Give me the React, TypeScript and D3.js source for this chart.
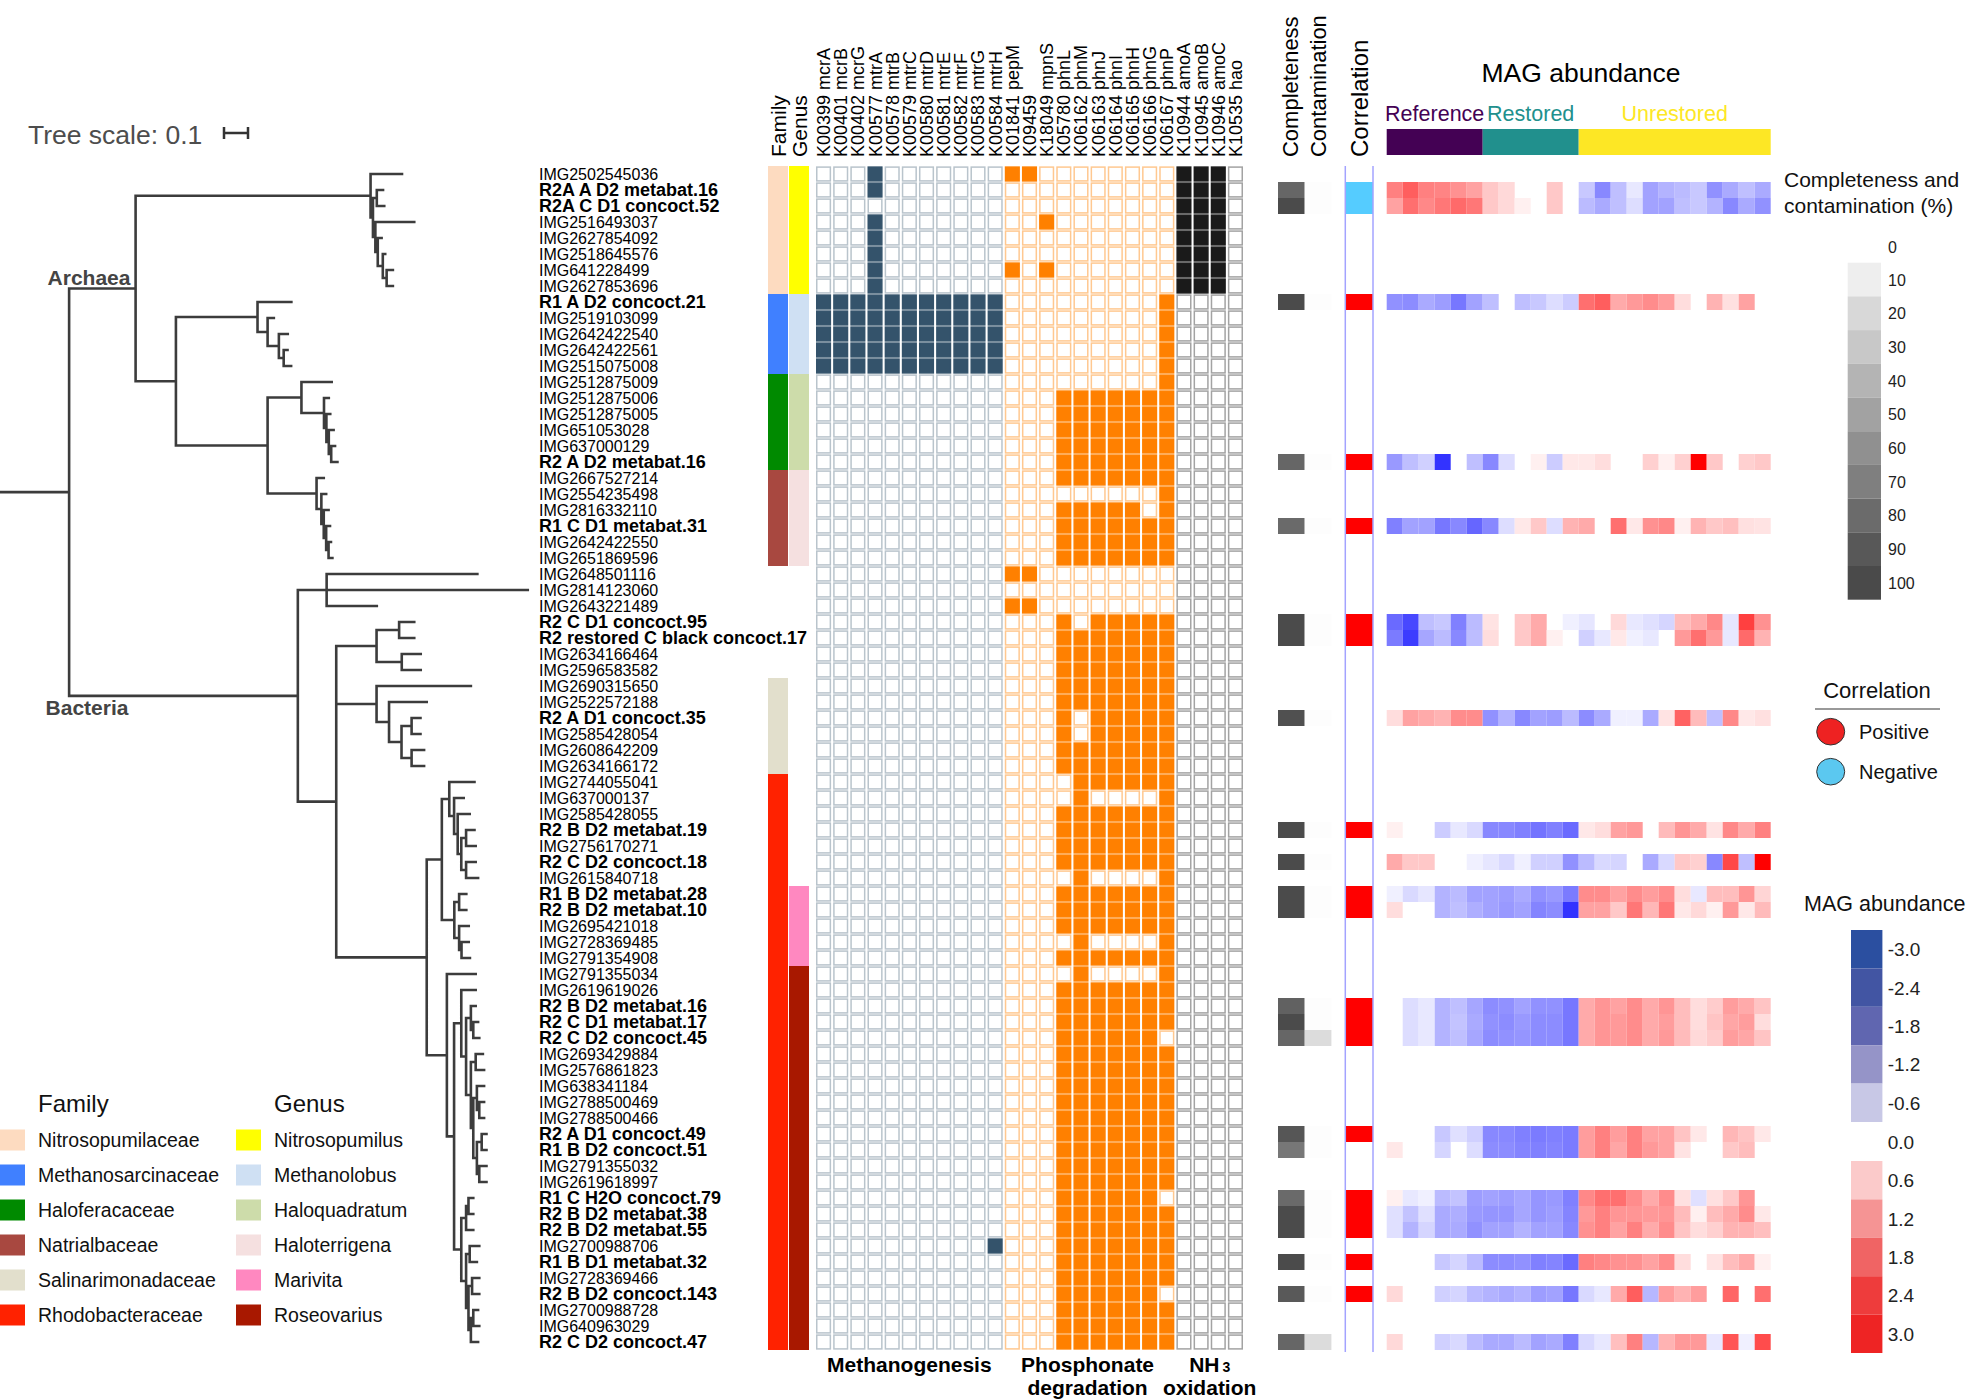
import React from "react";
import * as d3 from "d3";

// ---- data ----
const LEAVES = [
  "IMG2502545036", "R2A A D2 metabat.16", "R2A C D1 concoct.52", "IMG2516493037", "IMG2627854092",
  "IMG2518645576", "IMG641228499", "IMG2627853696", "R1 A D2 concoct.21", "IMG2519103099",
  "IMG2642422540", "IMG2642422561", "IMG2515075008", "IMG2512875009", "IMG2512875006",
  "IMG2512875005", "IMG651053028", "IMG637000129", "R2 A D2 metabat.16", "IMG2667527214",
  "IMG2554235498", "IMG2816332110", "R1 C D1 metabat.31", "IMG2642422550", "IMG2651869596",
  "IMG2648501116", "IMG2814123060", "IMG2643221489", "R2 C D1 concoct.95", "R2 restored C black concoct.17",
  "IMG2634166464", "IMG2596583582", "IMG2690315650", "IMG2522572188", "R2 A D1 concoct.35",
  "IMG2585428054", "IMG2608642209", "IMG2634166172", "IMG2744055041", "IMG637000137",
  "IMG2585428055", "R2 B D2 metabat.19", "IMG2756170271", "R2 C D2 concoct.18", "IMG2615840718",
  "R1 B D2 metabat.28", "R2 B D2 metabat.10", "IMG2695421018", "IMG2728369485", "IMG2791354908",
  "IMG2791355034", "IMG2619619026", "R2 B D2 metabat.16", "R2 C D1 metabat.17", "R2 C D2 concoct.45",
  "IMG2693429884", "IMG2576861823", "IMG638341184", "IMG2788500469", "IMG2788500466",
  "R2 A D1 concoct.49", "R1 B D2 concoct.51", "IMG2791355032", "IMG2619618997", "R1 C H2O concoct.79",
  "R2 B D2 metabat.38", "R2 B D2 metabat.55", "IMG2700988706", "R1 B D1 metabat.32", "IMG2728369466",
  "R2 B D2 concoct.143", "IMG2700988728", "IMG640963029", "R2 C D2 concoct.47",
];

const GENES = [
  "K00399 mcrA", "K00401 mcrB", "K00402 mcrG", "K00577 mtrA", "K00578 mtrB", "K00579 mtrC",
  "K00580 mtrD", "K00581 mtrE", "K00582 mtrF", "K00583 mtrG", "K00584 mtrH",
  "K01841 pepM", "K09459", "K18049 mpnS", "K05780 phnL", "K06162 phnM", "K06163 phnJ",
  "K06164 phnI", "K06165 phnH", "K06166 phnG", "K06167 phnP",
  "K10944 amoA", "K10945 amoB", "K10946 amoC", "K10535 hao",
];
const PATHWAYS = ["Methanogenesis", "Phosphonate degradation", "NH3 oxidation"];
const PATHWAY_OF_GENE = [0,0,0,0,0,0,0,0,0,0,0, 1,1,1,1,1,1,1,1,1,1, 2,2,2,2];

// gene presence, one string per leaf (1 = present), columns in GENES order
const PRESENCE = [
  "00010000000" + "1100000000" + "1110",
  "00010000000" + "0000000000" + "1110",
  "00000000000" + "0000000000" + "1110",
  "00010000000" + "0010000000" + "1110",
  "00010000000" + "0000000000" + "1110",
  "00010000000" + "0000000000" + "1110",
  "00010000000" + "1010000000" + "1110",
  "00010000000" + "0000000000" + "1110",
  "11111111111" + "0000000001" + "0000",
  "11111111111" + "0000000001" + "0000",
  "11111111111" + "0000000001" + "0000",
  "11111111111" + "0000000001" + "0000",
  "11111111111" + "0000000001" + "0000",
  "00000000000" + "0000000001" + "0000",
  "00000000000" + "0001111111" + "0000",
  "00000000000" + "0001111111" + "0000",
  "00000000000" + "0001111111" + "0000",
  "00000000000" + "0001111111" + "0000",
  "00000000000" + "0001111111" + "0000",
  "00000000000" + "0001111111" + "0000",
  "00000000000" + "0000000001" + "0000",
  "00000000000" + "0001111101" + "0000",
  "00000000000" + "0001111111" + "0000",
  "00000000000" + "0001111111" + "0000",
  "00000000000" + "0001111111" + "0000",
  "00000000000" + "1100000000" + "0000",
  "00000000000" + "0000000000" + "0000",
  "00000000000" + "1100000000" + "0000",
  "00000000000" + "0001011111" + "0000",
  "00000000000" + "0001111111" + "0000",
  "00000000000" + "0001111111" + "0000",
  "00000000000" + "0001111111" + "0000",
  "00000000000" + "0001111111" + "0000",
  "00000000000" + "0001111111" + "0000",
  "00000000000" + "0001011111" + "0000",
  "00000000000" + "0001011111" + "0000",
  "00000000000" + "0001111111" + "0000",
  "00000000000" + "0001111111" + "0000",
  "00000000000" + "0000111111" + "0000",
  "00000000000" + "0000100001" + "0000",
  "00000000000" + "0001111111" + "0000",
  "00000000000" + "0001111111" + "0000",
  "00000000000" + "0001111111" + "0000",
  "00000000000" + "0001111111" + "0000",
  "00000000000" + "0000100001" + "0000",
  "00000000000" + "0001111111" + "0000",
  "00000000000" + "0001111111" + "0000",
  "00000000000" + "0001111111" + "0000",
  "00000000000" + "0000100001" + "0000",
  "00000000000" + "0001111111" + "0000",
  "00000000000" + "0000100001" + "0000",
  "00000000000" + "0001111111" + "0000",
  "00000000000" + "0001111111" + "0000",
  "00000000000" + "0001111111" + "0000",
  "00000000000" + "0001111110" + "0000",
  "00000000000" + "0001111111" + "0000",
  "00000000000" + "0001111111" + "0000",
  "00000000000" + "0001111111" + "0000",
  "00000000000" + "0001111111" + "0000",
  "00000000000" + "0001111111" + "0000",
  "00000000000" + "0001111111" + "0000",
  "00000000000" + "0001111111" + "0000",
  "00000000000" + "0001111111" + "0000",
  "00000000000" + "0001111111" + "0000",
  "00000000000" + "0001111110" + "0000",
  "00000000000" + "0001111111" + "0000",
  "00000000000" + "0001111111" + "0000",
  "00000000001" + "0001111111" + "0000",
  "00000000000" + "0001111111" + "0000",
  "00000000000" + "0001111111" + "0000",
  "00000000000" + "0001111110" + "0000",
  "00000000000" + "0001111111" + "0000",
  "00000000000" + "0001111111" + "0000",
  "00000000000" + "0001111111" + "0000",
];

const FAMILY_NAMES = ["Nitrosopumilaceae", "Methanosarcinaceae", "Haloferacaceae", "Natrialbaceae", "Salinarimonadaceae", "Rhodobacteraceae"];
const GENUS_NAMES = ["Nitrosopumilus", "Methanolobus", "Haloquadratum", "Haloterrigena", "Marivita", "Roseovarius"];
// [taxon index, first row, last row]
const FAMILY_SPANS = [[0, 0, 7], [1, 8, 12], [2, 13, 18], [3, 19, 24], [4, 32, 37], [5, 38, 73]];
const GENUS_SPANS = [[0, 0, 7], [1, 8, 12], [2, 13, 18], [3, 19, 24], [4, 45, 49], [5, 50, 73]];

// MAG tracks, in the order the MAGs appear in LEAVES
const COMPLETENESS = [83, 98, 98, 83, 81, 98, 98, 95, 98, 98, 98, 98, 86, 98, 83, 92, 74, 81, 98, 98, 98, 90, 83];
const CONTAMINATION = [1, 1, 1, 1, 1, 1, 1, 1, 1, 1, 1, 1, 1, 1, 19, 1, 1, 1, 1, 1, 1, 1, 19];
const CORRELATION = [-1, -1, 1, 1, 1, 1, 1, 0, 1, 0, 1, 1, 1, 1, 1, 1, 0, 1, 1, 1, 1, 1, 0];

const SAMPLE_GROUPS = ["Reference", "Restored", "Unrestored"];
const SAMPLE_GROUP_SIZES = [6, 6, 12];

const ABUNDANCE: (number | null)[][] = [
  [1.5,1.9,1.5,1.45,1.3,1.1,0.65,0.45,null,null,0.65,null,-0.65,-1.4,-0.75,-0.27,-1.1,-0.9,-0.8,-0.65,-1.3,-1.0,-0.75,-1.0],
  [1.1,1.7,1.4,1.6,1.75,1.6,0.65,0.45,0.18,null,0.65,null,-0.8,-1.0,-0.75,-0.4,-1.1,-1.1,-0.75,-0.65,-0.9,-1.4,-1.0,-1.3],
  [-1.3,-1.35,-1.0,-1.15,-1.6,-1.1,-0.75,null,-0.75,-0.65,-0.4,-0.6,1.7,1.9,1.0,1.2,1.35,1.15,0.4,null,0.9,0.37,1.1,null],
  [-1.2,-0.75,-0.55,-2.4,null,-0.75,-1.4,-0.4,null,0.18,-0.6,0.27,0.27,0.4,null,null,0.55,0.18,0.55,3.0,0.65,null,0.55,0.65],
  [-1.5,-1.1,-1.1,-1.6,-1.4,-1.8,-1.4,-0.4,0.27,0.65,-0.4,0.9,1.0,null,1.7,0.27,1.3,1.4,0.18,0.9,0.65,0.75,0.37,0.33],
  [-1.75,-2.15,-0.75,-0.65,-1.5,-0.8,0.33,null,0.65,1.0,null,-0.18,-0.3,null,0.45,-0.27,-0.37,-0.5,0.8,1.0,1.4,-0.3,2.25,1.3],
  [-1.55,-2.3,-1.05,-0.8,-1.4,-0.78,0.4,null,0.65,1.0,0.18,null,-0.55,-0.27,0.27,-0.18,-0.27,null,1.2,1.7,1.2,-0.27,1.75,0.9],
  [0.4,1.1,1.0,0.9,1.35,1.35,-1.3,-0.9,-1.4,-1.1,-1.15,-0.8,-1.35,-1.0,-0.18,-0.18,-1.0,0.33,1.85,0.8,-0.75,1.4,0.27,0.37],
  [0.18,null,null,-0.6,-0.27,-0.45,-1.4,-1.4,-1.5,-1.65,-1.5,-1.75,0.27,0.4,1.1,1.2,null,0.8,1.25,1.0,0.33,1.4,1.0,1.5],
  [1.0,0.65,0.65,null,null,-0.18,-0.3,-0.45,-0.18,-0.55,-0.55,-1.3,-0.8,-0.45,-0.5,null,-1.0,-0.45,0.65,0.55,-1.4,2.15,-0.75,3.0],
  [-0.18,-0.45,-0.3,-0.9,-0.8,-1.1,-1.1,-1.15,-1.0,-1.3,-1.2,-1.55,1.35,1.35,1.1,1.35,1.15,1.35,0.4,-0.27,0.78,0.78,1.25,0.5],
  [0.4,null,null,-0.9,-0.75,-0.95,-1.1,-1.2,-1.1,-1.45,-1.35,-2.4,1.1,1.1,0.65,1.6,0.85,1.6,0.27,0.45,0.18,1.2,0.27,0.8],
  [null,-0.4,-0.27,-0.9,-0.75,-1.05,-1.35,-1.3,-1.1,-1.3,-1.3,-1.6,1.0,1.25,1.1,1.35,1.0,1.25,0.78,0.4,0.6,1.15,1.0,0.7],
  [null,-0.4,-0.27,-0.9,-0.7,-1.0,-1.3,-1.35,-1.2,-1.35,-1.35,-1.6,1.0,1.25,1.2,1.35,1.0,1.15,0.78,0.4,0.7,1.05,1.15,0.4],
  [null,-0.4,-0.27,-0.9,-0.75,-1.05,-1.35,-1.3,-1.25,-1.35,-1.35,-1.6,1.0,1.25,1.2,1.35,1.0,1.2,0.8,0.45,0.6,1.15,1.05,0.7],
  [null,null,null,-0.65,-0.37,-0.55,-1.4,-1.4,-1.5,-1.55,-1.5,-1.55,1.15,1.5,1.15,1.5,1.1,1.1,0.7,0.27,null,0.85,0.7,0.27],
  [0.27,null,null,-0.5,null,-0.4,-1.35,-1.35,-1.45,-1.5,-1.45,-1.55,1.15,1.5,1.05,1.5,1.2,1.1,0.33,null,null,0.65,0.78,null],
  [0.18,-0.27,-0.18,-0.8,-0.7,-1.15,-1.1,-1.15,-1.05,-1.25,-1.2,-1.5,1.4,1.7,1.7,1.35,1.0,1.35,0.37,-0.37,0.37,0.65,1.25,null],
  [-0.37,-0.7,-0.37,-1.0,-0.95,-1.2,-1.25,-1.25,-1.05,-1.25,-1.15,-1.45,1.2,1.5,1.25,1.25,1.2,1.25,0.8,0.18,0.78,1.0,1.35,0.27],
  [-0.37,-0.9,-0.5,-1.0,-1.0,-1.3,-1.1,-1.1,-0.9,-1.1,-1.1,-1.4,1.3,1.5,1.1,1.5,1.0,1.35,0.7,0.4,0.55,0.9,0.9,0.75],
  [null,null,null,-0.65,-0.5,-0.8,-1.35,-1.35,-1.3,-1.5,-1.45,-1.75,1.5,1.4,1.3,1.3,1.1,1.35,0.4,null,0.33,0.78,1.0,0.18],
  [0.45,null,null,-0.55,-0.5,-0.8,-0.9,-1.0,-0.9,-1.15,-1.1,-1.6,-0.45,-0.27,1.0,1.9,-0.85,1.15,0.9,1.15,null,1.8,null,1.7],
  [0.45,null,null,-0.55,-0.45,-0.8,-1.0,-1.0,-0.8,-1.1,-1.0,-1.5,-0.45,-0.27,0.75,1.5,-0.85,0.9,1.2,1.2,-0.27,2.0,-0.18,2.1],
];

const GRAY_TICKS = [0, 10, 20, 30, 40, 50, 60, 70, 80, 90, 100];
const ABUNDANCE_TICKS = [-3.0, -2.4, -1.8, -1.2, -0.6, 0.0, 0.6, 1.2, 1.8, 2.4, 3.0];

// tree (leaf names are row indices into LEAVES), branch lengths in substitutions/site
const NITRO = "(0:0.131,((1:0.026,2:0.031):0.016,(3:0.162,(4:0.016,(5:0.010,(6:0.026,7:0.026):0.016):0.021):0.010):0.010):0.010):0.979";
const METHANO = "(8:0.141,(9:0.026,(10:0.037,(11:0.016,12:0.031):0.020):0.047):0.042):0.340";
const HALOFER = "(13:0.126,(14:0.020,(15:0.016,(16:0.020,(17:0.016,18:0.026):0.010):0.010):0.010):0.094):0.141";
const NATRI = "(19:0.030,(20:0.020,(21:0.020,(22:0.016,(23:0.010,24:0.016):0.010):0.010):0.010):0.020):0.204";
const BACT1 = "(25:0.628,26:0.838,27:0.209):0.120";
const BACT2 = "((28:0.063,29:0.063):0.094,(30:0.079,31:0.079):0.105):0.168";
const SALIN = "(32:0.393,(33:0.157,((34:0.037,35:0.037):0.042,(36:0.052,37:0.052):0.042):0.052):0.052):0.168";
const RHODO1 = "((38:0.105,(39:0.040,(40:0.050,((41:0.035,42:0.040):0.020,(43:0.040,44:0.050):0.020):0.015):0.015):0.020):0.031,((45:0.030,46:0.030):0.020,(47:0.040,(48:0.030,49:0.035):0.010):0.020):0.052):0.063";
const RHODO2 = "(50:0.120,((51:0.060,((52:0.020,(53:0.020,54:0.025):0.010):0.020,((55:0.030,56:0.035):0.020,((57:0.030,(58:0.020,59:0.020):0.010):0.015,((60:0.020,61:0.020):0.020,(62:0.030,63:0.030):0.010):0.015):0.010):0.020):0.020):0.03,(((64:0.020,65:0.020):0.010,66:0.030):0.020,((67:0.040,68:0.030):0.015,((69:0.030,70:0.030):0.015,((71:0.020,72:0.025):0.010,73:0.030):0.010):0.010):0.020):0.03):0.030):0.084";
const TREE_NEWICK = `((${NITRO},(${METHANO},(${HALOFER},${NATRI}):0.382):0.168):0.277,(${BACT1},(${BACT2},${SALIN},(${RHODO1},${RHODO2}):0.377):0.160):0.953):0.288;`;

// ---- styles ----
const FONT = "'Liberation Sans', Arial, Helvetica, sans-serif";
const FAMILY_COLORS = ["#fddbc0", "#4080ff", "#008a00", "#a84840", "#e2dfcc", "#ff2200"];
const GENUS_COLORS = ["#ffff00", "#cfe0f3", "#cddcaa", "#f5e0e0", "#ff88c0", "#a81800"];
const PATHWAY_FILL = ["#34536b", "#ff8000", "#1a1a1a"];
const PATHWAY_STROKE = ["#b9c4cc", "#ffc890", "#a3a3a3"];
const GROUP_COLORS = ["#440154", "#21908d", "#fde725"];
const GRAY_BINS = ["#eeeeee", "#d8d8d8", "#c8c8c8", "#b4b4b4", "#a2a2a2", "#909090", "#7f7f7f", "#6b6b6b", "#585858", "#4a4a4a"];
const ABUND_BINS = ["#2b4fa0", "#4255a3", "#6066b0", "#9594c8", "#c8c8e6", null, "#fbcaca", "#f59494", "#f06464", "#ee3c3c", "#ee2424"];

type TNode = { name: string; length: number; children?: TNode[] };

function parseNewick(src: string): TNode {
  const s = src.replace(/\s+/g, "");
  let i = 0;
  const parse = (): TNode => {
    const node: TNode = { name: "", length: 0 };
    if (s[i] === "(") {
      node.children = [];
      i++;
      node.children.push(parse());
      while (s[i] === ",") {
        i++;
        node.children.push(parse());
      }
      i++;
    }
    while (i < s.length && !",():;".includes(s[i])) node.name += s[i++];
    if (s[i] === ":") {
      i++;
      let num = "";
      while (i < s.length && !",();".includes(s[i])) num += s[i++];
      node.length = parseFloat(num);
    }
    return node;
  };
  return parse();
}

export default function App() {
  const W = 1969, H = 1400;
  const nRows = LEAVES.length;
  const y = d3.scaleBand<number>().domain(d3.range(nRows)).range([166, 166 + nRows * 16]);
  const rowH = y.bandwidth();
  const xGene = d3.scaleBand<string>().domain(GENES).range([816, 1243]).paddingInner(0.12).paddingOuter(0);
  const nSamples = d3.sum(SAMPLE_GROUP_SIZES);
  const xSample = d3.scaleBand<number>().domain(d3.range(nSamples)).range([1386.7, 1770.7]);
  const heat = d3.scaleLinear<string>().domain([-3, 0, 3]).range(["#0000ff", "#ffffff", "#ff0000"]).clamp(true);
  const gray = d3.scaleLinear<string>().domain([0, 100]).range(["#ffffff", "#474747"]);
  const xTree = d3.scaleLinear().domain([0, 0.1]).range([0, 24]);

  const magRows = LEAVES.map((l, i) => (l.startsWith("IMG") ? -1 : i)).filter((i) => i >= 0);

  // tree layout
  const root: any = d3.hierarchy(parseNewick(TREE_NEWICK));
  root.eachBefore((n: any) => {
    n.len = (n.parent ? n.parent.len : 0) + n.data.length;
  });
  root.eachAfter((n: any) => {
    if (!n.children) n.yy = (y(+n.data.name) as number) + rowH / 2;
    else n.yy = (n.children[0].yy + n.children[n.children.length - 1].yy) / 2;
  });
  let treePath = `M0,${root.yy}H${xTree(root.len)}`;
  root.each((n: any) => {
    if (n.parent) treePath += `M${xTree(n.parent.len)},${n.yy}H${xTree(n.len)}`;
    if (n.children) treePath += `M${xTree(n.len)},${n.children[0].yy}V${n.children[n.children.length - 1].yy}`;
  });
  const archaea = root.children[0];
  const bacteria = root.children[1];

  // pathway extents
  const pathwayExtent = PATHWAYS.map((_, p) => {
    const gs = GENES.filter((_, g) => PATHWAY_OF_GENE[g] === p);
    return [xGene(gs[0]) as number, (xGene(gs[gs.length - 1]) as number) + xGene.bandwidth()];
  });

  let groupStart = 0;
  const groups = SAMPLE_GROUPS.map((g, i) => {
    const x0 = xSample(groupStart) as number;
    groupStart += SAMPLE_GROUP_SIZES[i];
    const x1 = (xSample(groupStart - 1) as number) + xSample.bandwidth();
    return { name: g, x0, x1, color: GROUP_COLORS[i] };
  });

  const rotLabel = (text: string, cx: number, bottom: number, size: number, key: string) => (
    <text
      key={key}
      x={cx + size * 0.36}
      y={bottom}
      transform={`rotate(-90 ${cx + size * 0.36} ${bottom})`}
      fontSize={size}
      fill="#000"
    >
      {text}
    </text>
  );

  // abundance legend geometry
  const abTop = 930, abStep = 38.4, abGap = 39;

  return (
    <svg width={W} height={H} style={{ position: "absolute", left: 0, top: 0, background: "#fff" }} fontFamily={FONT}>
      {/* tree scale */}
      <text x={28} y={144} fontSize={26.5} fill="#4d4d4d">Tree scale: 0.1</text>
      <path d={`M${224},127V139M${224},133H${224 + xTree(0.1)}M${224 + xTree(0.1)},127V139`} stroke="#333" strokeWidth={2.5} fill="none" />

      {/* tree */}
      <path d={treePath} stroke="#3c3c3c" strokeWidth={2.6} fill="none" strokeLinecap="square" />
      <text x={89} y={archaea.yy - 4} fontSize={21} fontWeight="bold" fill="#444" textAnchor="middle">Archaea</text>
      <text x={87} y={bacteria.yy + 19} fontSize={21} fontWeight="bold" fill="#444" textAnchor="middle">Bacteria</text>

      {/* leaf labels */}
      {LEAVES.map((l, i) => {
        const mag = !l.startsWith("IMG");
        return (
          <text key={l + i} x={539} y={(y(i) as number) + rowH / 2 + (mag ? 6.3 : 5.6)} fontSize={mag ? 18 : 16} fontWeight={mag ? "bold" : "normal"} fill="#000">
            {l}
          </text>
        );
      })}

      {/* family / genus strips */}
      {rotLabel("Family", 778, 157, 21, "fam")}
      {rotLabel("Genus", 799, 157, 21, "gen")}
      {FAMILY_SPANS.map(([f, a, b]) => (
        <rect key={"f" + f} x={768} y={y(a)} width={20} height={(y(b) as number) + rowH - (y(a) as number)} fill={FAMILY_COLORS[f]} />
      ))}
      {GENUS_SPANS.map(([g, a, b]) => (
        <rect key={"g" + g} x={789} y={y(a)} width={20} height={(y(b) as number) + rowH - (y(a) as number)} fill={GENUS_COLORS[g]} />
      ))}

      {/* gene headers */}
      {GENES.map((g) => rotLabel(g, (xGene(g) as number) + xGene.bandwidth() / 2, 157, 18, "h" + g))}

      {/* presence matrix */}
      {PRESENCE.map((row, r) =>
        GENES.map((g, c) => {
          const p = PATHWAY_OF_GENE[c];
          const on = row[c] === "1";
          return (
            <rect
              key={`m${r}-${c}`}
              x={(xGene(g) as number) + 0.75}
              y={(y(r) as number) + 1.1}
              width={xGene.bandwidth() - 1.5}
              height={rowH - 2.2}
              fill={on ? PATHWAY_FILL[p] : "#fff"}
              stroke={on ? PATHWAY_FILL[p] : PATHWAY_STROKE[p]}
              strokeWidth={1.5}
            />
          );
        })
      )}

      {/* pathway labels */}
      <text x={(pathwayExtent[0][0] + pathwayExtent[0][1]) / 2} y={1372} fontSize={21} fontWeight="bold" textAnchor="middle">Methanogenesis</text>
      <text x={(pathwayExtent[1][0] + pathwayExtent[1][1]) / 2 - 2} y={1372} fontSize={21} fontWeight="bold" textAnchor="middle">Phosphonate</text>
      <text x={(pathwayExtent[1][0] + pathwayExtent[1][1]) / 2 - 2} y={1395} fontSize={21} fontWeight="bold" textAnchor="middle">degradation</text>
      <text x={(pathwayExtent[2][0] + pathwayExtent[2][1]) / 2} y={1372} fontSize={21} fontWeight="bold" textAnchor="middle">
        NH<tspan fontSize={14} dx={3}>3</tspan>
      </text>
      <text x={(pathwayExtent[2][0] + pathwayExtent[2][1]) / 2} y={1395} fontSize={21} fontWeight="bold" textAnchor="middle">oxidation</text>

      {/* completeness / contamination / correlation */}
      {rotLabel("Completeness", 1290, 157, 22, "comp")}
      {rotLabel("Contamination", 1318, 157, 22, "cont")}
      {rotLabel("Correlation", 1359, 157, 24, "corr")}
      {magRows.map((r, k) => (
        <g key={"mag" + r}>
          <rect x={1278} y={y(r)} width={26.7} height={rowH} fill={gray(COMPLETENESS[k])} />
          {CONTAMINATION[k] > 0 && <rect x={1304.7} y={y(r)} width={26.7} height={rowH} fill={gray(CONTAMINATION[k])} />}
          {CORRELATION[k] !== 0 && (
            <rect x={1345.3} y={y(r)} width={27.7} height={rowH} fill={CORRELATION[k] > 0 ? "#ff0000" : "#55ccff"} />
          )}
        </g>
      ))}
      <line x1={1345.3} x2={1345.3} y1={166} y2={1352} stroke="#a3a3ff" strokeWidth={1.5} />
      <line x1={1373} x2={1373} y1={166} y2={1352} stroke="#a3a3ff" strokeWidth={1.5} />

      {/* MAG abundance heatmap */}
      <text x={1581} y={82} fontSize={26.5} textAnchor="middle">MAG abundance</text>
      {groups.map((g) => (
        <g key={g.name}>
          <rect x={g.x0} y={129} width={g.x1 - g.x0} height={26} fill={g.color} />
          <text x={(g.x0 + g.x1) / 2} y={121} fontSize={21.5} textAnchor="middle" fill={g.color}>{g.name}</text>
        </g>
      ))}
      {magRows.map((r, k) =>
        ABUNDANCE[k].map((v, c) =>
          v === null ? null : (
            <rect key={`a${r}-${c}`} x={xSample(c)} y={y(r)} width={xSample.bandwidth()} height={rowH} fill={heat(v)} />
          )
        )
      )}

      {/* completeness legend */}
      <text x={1784} y={187} fontSize={21} fill="#111">Completeness and</text>
      <text x={1784} y={213} fontSize={21} fill="#111">contamination (%)</text>
      {GRAY_BINS.map((c, i) => (
        <rect key={"gb" + i} x={1847.7} y={262.7 + i * 33.7} width={33.3} height={33.7} fill={c} />
      ))}
      {GRAY_TICKS.map((t, i) => (
        <text key={"gt" + t} x={1888} y={(i === 0 ? 246.7 : 262.7 + (i - 0.5) * 33.7) + 6} fontSize={16} fill="#222">{t}</text>
      ))}

      {/* correlation legend */}
      <text x={1877} y={698} fontSize={22} textAnchor="middle" fill="#111">Correlation</text>
      <line x1={1815} x2={1940} y1={709} y2={709} stroke="#999" strokeWidth={2} />
      <ellipse cx={1830.7} cy={731.7} rx={14} ry={13.3} fill="#ee2222" stroke="#333" strokeWidth={1} />
      <text x={1859} y={738.7} fontSize={20} fill="#111">Positive</text>
      <ellipse cx={1830.7} cy={771.7} rx={14} ry={13.3} fill="#5bc8f0" stroke="#333" strokeWidth={1} />
      <text x={1859} y={778.7} fontSize={20} fill="#111">Negative</text>

      {/* abundance legend */}
      <text x={1804} y={911} fontSize={21.5} fill="#111">MAG abundance</text>
      {ABUND_BINS.map((c, i) => {
        const top = i < 5 ? abTop + i * abStep : abTop + 5 * abStep + abGap + (i - 6) * abStep;
        return c ? <rect key={"ab" + i} x={1851} y={top} width={31.4} height={abStep} fill={c} /> : null;
      })}
      {ABUNDANCE_TICKS.map((t, i) => {
        const cy =
          i < 5 ? abTop + (i + 0.5) * abStep : i === 5 ? abTop + 5 * abStep + abGap / 2 : abTop + 5 * abStep + abGap + (i - 5.5) * abStep;
        return (
          <text key={"at" + i} x={1887.7} y={cy + 7} fontSize={19} fill="#222">{t.toFixed(1)}</text>
        );
      })}

      {/* family / genus legend */}
      <text x={38} y={1112} fontSize={24} fill="#111">Family</text>
      <text x={274} y={1112} fontSize={24} fill="#111">Genus</text>
      {FAMILY_NAMES.map((f, i) => (
        <g key={f}>
          <rect x={0} y={1140 + i * 35 - 10.5} width={25} height={21} fill={FAMILY_COLORS[i]} />
          <text x={38} y={1140 + i * 35 + 7} fontSize={19.5} fill="#111">{f}</text>
        </g>
      ))}
      {GENUS_NAMES.map((g, i) => (
        <g key={g}>
          <rect x={236} y={1140 + i * 35 - 10.5} width={25} height={21} fill={GENUS_COLORS[i]} />
          <text x={274} y={1140 + i * 35 + 7} fontSize={19.5} fill="#111">{g}</text>
        </g>
      ))}
    </svg>
  );
}
